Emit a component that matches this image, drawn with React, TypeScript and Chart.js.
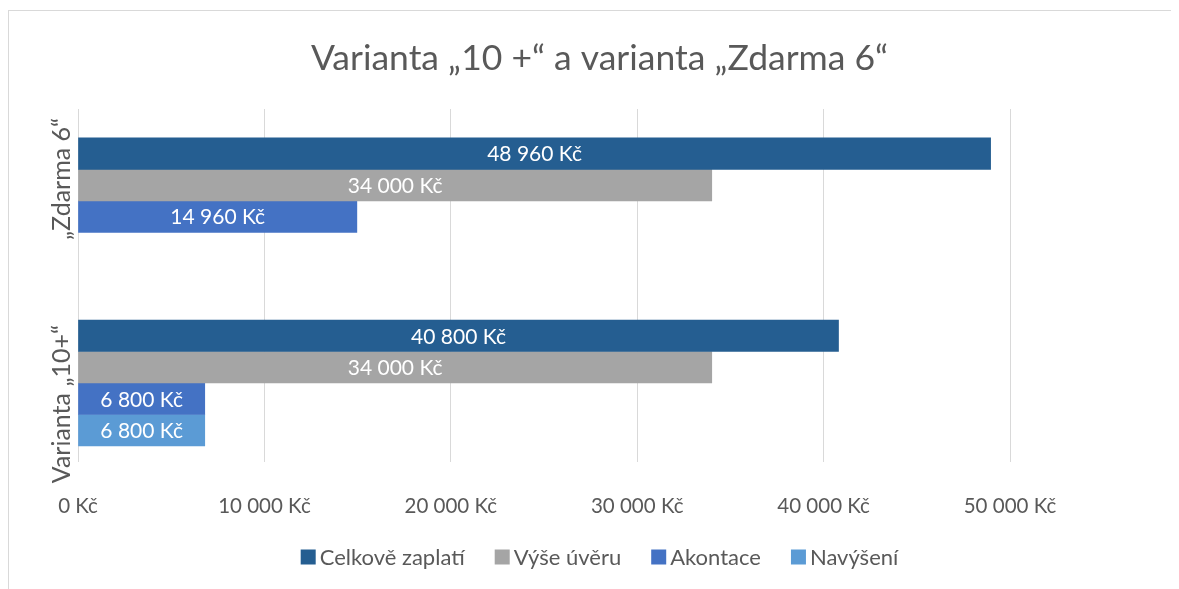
import { useEffect, useRef } from 'react';
import { Chart, registerables } from 'chart.js';

Chart.register(...registerables);

// ---- data ----
const categories = ['„Zdarma 6“', 'Varianta „10+“'];
const seriesNames = ['Celkově zaplatí', 'Výše úvěru', 'Akontace', 'Navýšení'];
const celkoveZaplati = [48960, 40800];
const vyseUveru = [34000, 34000];
const akontace = [14960, 6800];
const navyseni: (number | null)[] = [null, 6800];
const xTickValues = [0, 10000, 20000, 30000, 40000, 50000];
const chartTitle = 'Varianta „10 +“ a varianta „Zdarma 6“';

// ---- styles ----
const seriesColors = ['#255E91', '#A5A5A5', '#4472C4', '#5B9BD5'];
const FONT = 'Lato, "Open Sans", sans-serif';
const TEXT = '#595959';
const yLabelNudge = [-22, 21];

const fmt = (v: number) =>
  String(Math.round(v)).replace(/\B(?=(\d{3})+(?!\d))/g, ' ') + ' Kč';

const labelsPlugin = {
  id: 'customLabels',
  afterDatasetsDraw(chart: any) {
    const ctx = chart.ctx;
    ctx.save();
    ctx.fillStyle = '#FFFFFF';
    ctx.font = `21px ${FONT}`;
    ctx.textAlign = 'center';
    ctx.textBaseline = 'middle';
    chart.data.datasets.forEach((ds: any, di: number) => {
      const meta = chart.getDatasetMeta(di);
      meta.data.forEach((bar: any, j: number) => {
        const raw = ds.data[j];
        if (!raw || raw.x == null) return;
        const p = bar.getProps(['x', 'base', 'y'], true);
        ctx.fillText(fmt(raw.x), (p.x + p.base) / 2, p.y + 1);
      });
    });
    const ys = chart.scales.y;
    const left = chart.chartArea.left;
    ctx.fillStyle = TEXT;
    ctx.font = `25px ${FONT}`;
    ctx.textBaseline = 'alphabetic';
    categories.forEach((c, i) => {
      ctx.save();
      ctx.translate(left - 8, ys.getPixelForValue(i) + (yLabelNudge[i] || 0));
      ctx.rotate(-Math.PI / 2);
      ctx.fillText(c, 0, 0);
      ctx.restore();
    });
    ctx.restore();
  },
  afterDraw(chart: any) {
    // legend drawn in the Excel manner: small square, short gap, label
    const ctx = chart.ctx;
    ctx.save();
    ctx.font = `22px ${FONT}`;
    ctx.textBaseline = 'middle';
    ctx.textAlign = 'left';
    const box = 15;
    const gapText = 4;
    const gapItem = 30;
    const items = chart.data.datasets.map((ds: any) => ({
      label: ds.label,
      color: ds.backgroundColor,
      w: ctx.measureText(ds.label).width,
    }));
    const total =
      items.reduce((s: number, it: any) => s + box + gapText + it.w, 0) +
      gapItem * (items.length - 1);
    let x = chart.width / 2 - total / 2;
    const y = chart.chartArea.bottom + 95;
    items.forEach((it: any) => {
      ctx.fillStyle = it.color;
      ctx.fillRect(x, y - box / 2, box, box);
      ctx.fillStyle = TEXT;
      ctx.fillText(it.label, x + box + gapText, y + 1);
      x += box + gapText + it.w + gapItem;
    });
    ctx.restore();
  },
};

export default function App() {
  const ref = useRef<HTMLCanvasElement | null>(null);

  useEffect(() => {
    if (!ref.current) return;
    const prevOverflow = document.body.style.overflow;
    document.body.style.overflow = 'hidden';
    const all = [celkoveZaplati, vyseUveru, akontace, navyseni];
    const datasets = all.map((vals, k) => ({
      label: seriesNames[k],
      data: vals
        .map((v, i) => (v == null ? null : { x: v, y: i }))
        .filter((d) => d !== null),
      backgroundColor: seriesColors[k],
      borderWidth: 0,
      barThickness: 31.5,
    }));

    const chart = new Chart(ref.current, {
      type: 'bar',
      data: { datasets } as any,
      plugins: [labelsPlugin],
      options: {
        indexAxis: 'y',
        animation: false,
        responsive: false,
        layout: { padding: { top: 0, left: 0, right: 0, bottom: 64 } },
        scales: {
          x: {
            type: 'linear',
            min: 0,
            max: 50000,
            afterBuildTicks: (s: any) => {
              s.ticks = xTickValues.map((v) => ({ value: v }));
            },
            afterFit: (s: any) => {
              s.height = 63;
            },
            ticks: {
              callback: (v: any) => fmt(Number(v)),
              color: TEXT,
              font: { family: FONT, size: 20.5 },
              padding: 32,
              maxRotation: 0,
              autoSkip: false,
            },
            grid: { color: '#D9D9D9', lineWidth: 1, drawTicks: false },
            border: { display: false },
          },
          y: {
            type: 'linear',
            reverse: true,
            offset: false,
            min: -0.505,
            max: 1.434,
            ticks: { display: false },
            grid: { display: false, offset: false },
            border: { display: false },
            afterFit: (s: any) => {
              s.width = 69;
            },
          },
          yRight: {
            type: 'linear',
            position: 'right',
            display: true,
            ticks: { display: false },
            grid: { display: false },
            border: { display: false },
            afterFit: (s: any) => {
              s.width = 180;
            },
          },
        },
        plugins: {
          title: {
            display: true,
            text: chartTitle,
            color: TEXT,
            font: { family: FONT, size: 35.5, weight: 'normal' },
            padding: { top: 26, bottom: 29.4 },
          },
          legend: { display: false },
          tooltip: { enabled: false },
        },
      } as any,
    });
    return () => {
      chart.destroy();
      document.body.style.overflow = prevOverflow;
    };
  }, []);

  return (
    <div style={{ height: 581, overflow: 'hidden' }}>
      <div
        style={{
          marginTop: 2,
          width: 1182,
          height: 579,
          borderLeft: '1px solid #D9D9D9',
          borderTop: '1px solid #D9D9D9',
          boxSizing: 'border-box',
          background: '#FFFFFF',
        }}
      >
        <canvas ref={ref} width={1181} height={578} style={{ display: 'block', width: 1181, height: 578 }} />
      </div>
    </div>
  );
}
